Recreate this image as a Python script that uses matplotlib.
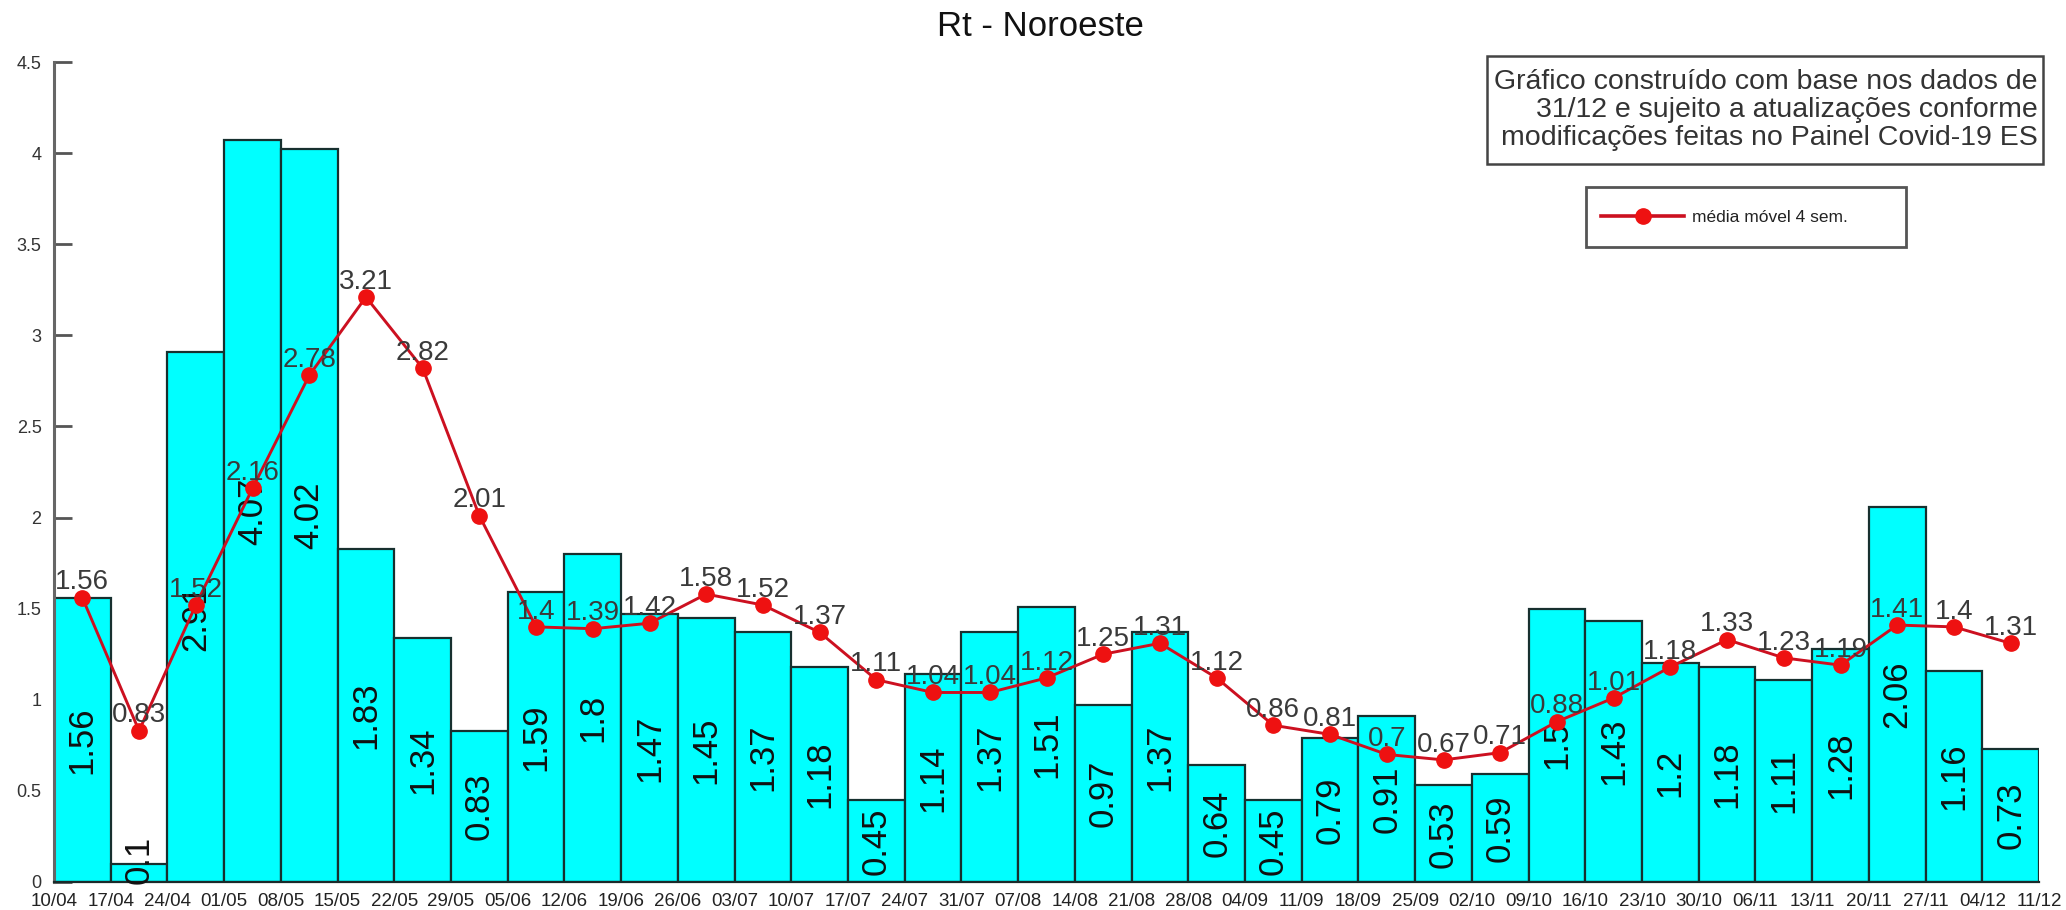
import matplotlib
matplotlib.use("Agg")
import matplotlib.pyplot as plt
import numpy as np
from matplotlib.lines import Line2D
from matplotlib.patches import Rectangle

plt.rcParams['font.family'] = ['Liberation Sans', 'DejaVu Sans']

date_labels = ["10/04", "17/04", "24/04", "01/05", "08/05", "15/05", "22/05", "29/05",
               "05/06", "12/06", "19/06", "26/06", "03/07", "10/07", "17/07", "24/07",
               "31/07", "07/08", "14/08", "21/08", "28/08", "04/09", "11/09", "18/09",
               "25/09", "02/10", "09/10", "16/10", "23/10", "30/10", "06/11", "13/11",
               "20/11", "27/11", "04/12", "11/12"]

rt_weekly = [1.56, 0.1, 2.91, 4.07, 4.02, 1.83, 1.34, 0.83, 1.59, 1.8, 1.47, 1.45,
             1.37, 1.18, 0.45, 1.14, 1.37, 1.51, 0.97, 1.37, 0.64, 0.45, 0.79, 0.91,
             0.53, 0.59, 1.5, 1.43, 1.2, 1.18, 1.11, 1.28, 2.06, 1.16, 0.73]

rt_media_movel = [1.56, 0.83, 1.52, 2.16, 2.78, 3.21, 2.82, 2.01, 1.4, 1.39, 1.42, 1.58,
                  1.52, 1.37, 1.11, 1.04, 1.04, 1.12, 1.25, 1.31, 1.12, 0.86, 0.81, 0.7,
                  0.67, 0.71, 0.88, 1.01, 1.18, 1.33, 1.23, 1.19, 1.41, 1.4, 1.31]

y_ticks = [0, 0.5, 1, 1.5, 2, 2.5, 3, 3.5, 4, 4.5]
y_tick_labels = ["0", "0.5", "1", "1.5", "2", "2.5", "3", "3.5", "4", "4.5"]

title = "Rt - Noroeste"
note_lines = ["Gráfico construído com base nos dados de",
              "31/12 e sujeito a atualizações conforme",
              "modificações feitas no Painel Covid-19 ES"]
legend_label = "média móvel 4 sem."

W, H = 2066, 910
fig = plt.figure(figsize=(W / 100, H / 100), dpi=100)


def fx(px):
    return px / W


def fy(py):
    return 1 - py / H


left, right, bottom, top = 54, 2039, 882, 62
ax = fig.add_axes([fx(left), fy(bottom), (right - left) / W, (bottom - top) / H])

n = len(rt_weekly)
x = np.arange(n) + 0.5

line_color = "#cc1020"
marker_color = "#ee1111"

ax.bar(x, rt_weekly, width=1.0, color="#00FFFF", edgecolor="#17302f", linewidth=1.6, zorder=2)

for xi, v in zip(x, rt_weekly):
    ax.text(xi, max(v / 2, 0.12), f"{v:g}", rotation=90, ha="center", va="center",
            fontsize=25, color="#111111", zorder=3)

ax.plot(x, rt_media_movel, color=line_color, linewidth=2.1, marker="o", markersize=11,
        markerfacecolor=marker_color, markeredgecolor=marker_color, zorder=4)

for xi, v in zip(x, rt_media_movel):
    ax.annotate(f"{v:g}", (xi, v), xytext=(0, 6), textcoords="offset points",
                ha="center", va="baseline", fontsize=20, color="#3a3a3a", zorder=5)

ax.set_xlim(0, n)
ax.set_ylim(0, 4.5)
ax.set_xticks(np.arange(len(date_labels)))
ax.set_xticklabels(date_labels, fontsize=13.5, color="#222222")
ax.tick_params(axis="x", length=0, pad=8)
ax.set_yticks(y_ticks)
ax.set_yticklabels(y_tick_labels, fontsize=13, color="#333333")
ax.tick_params(axis="y", direction="in", length=13, width=2, color="#555555", pad=9)

for s in ["top", "right"]:
    ax.spines[s].set_visible(False)
ax.spines["left"].set_color("#666666")
ax.spines["left"].set_linewidth(2.2)
ax.spines["bottom"].set_color("#1a2a2a")
ax.spines["bottom"].set_linewidth(1.6)

fig.text(fx(1040), fy(27), title, ha="center", va="center", fontsize=25, color="#111111")

# note box
fig.patches.append(Rectangle((fx(1487), fy(164)), (2043 - 1487) / W, (164 - 56) / H,
                             transform=fig.transFigure, facecolor="white",
                             edgecolor="#444444", linewidth=1.8, zorder=1))
for yy, line in zip([82, 110, 138], note_lines):
    fig.text(fx(2038), fy(yy), line, ha="right", va="center", fontsize=20.5,
             color="#333333", zorder=2)

# legend
fig.patches.append(Rectangle((fx(1586), fy(247)), (1906 - 1586) / W, (247 - 187) / H,
                             transform=fig.transFigure, facecolor="white",
                             edgecolor="#555555", linewidth=2.0, zorder=1))
handle = Line2D([], [], color=line_color, linewidth=2.6, marker="o", markersize=11,
                markerfacecolor=marker_color, markeredgecolor=marker_color)
leg = fig.legend([handle], [legend_label], loc="center left",
                 bbox_to_anchor=(fx(1601), fy(217)), fontsize=12.5, frameon=False,
                 handlelength=4.8, borderpad=0, handletextpad=0.45, borderaxespad=0)
leg.set_zorder(3)
for t in leg.get_texts():
    t.set_color("#222222")

fig.savefig("out.png", dpi=100, facecolor="white")
